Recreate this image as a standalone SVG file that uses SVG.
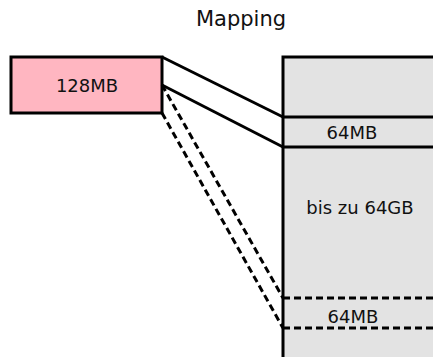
<svg xmlns="http://www.w3.org/2000/svg" width="433" height="357" viewBox="0 0 433 357">
<style>
text{font-family:"DejaVu Sans",sans-serif;fill:#111;text-anchor:middle}
.box{stroke:#000;stroke-width:3}
.solid{stroke:#000;stroke-width:3;fill:none}
.dash{stroke:#000;stroke-width:3;fill:none;stroke-dasharray:7 4}
</style>
<rect width="433" height="357" fill="#fff"/>
<text x="241" y="26" font-size="21">Mapping</text>
<g id="memory">
<rect class="box" x="283" y="57" width="160" height="310" fill="#e3e3e3"/>
<line class="solid" x1="283" y1="117" x2="433" y2="117"/>
<line class="solid" x1="283" y1="147" x2="433" y2="147"/>
<line class="dash" x1="283" y1="298" x2="433" y2="298"/>
<line class="dash" x1="283" y1="328" x2="433" y2="328"/>
<text x="352" y="139" font-size="18">64MB</text>
<text x="360" y="214" font-size="18">bis zu 64GB</text>
<text x="353" y="323" font-size="18">64MB</text>
</g>
<g id="block">
<rect class="box" x="11" y="57" width="151" height="56" fill="#ffb6c1"/>
<text x="87" y="92" font-size="18">128MB</text>
</g>
<g id="connectors">
<line class="solid" x1="162" y1="57" x2="283" y2="117"/>
<line class="solid" x1="162" y1="85" x2="283" y2="147"/>
<line class="dash" x1="162" y1="85" x2="283" y2="298" stroke-dasharray="6 5"/>
<line class="dash" x1="162" y1="113" x2="283" y2="328" stroke-dasharray="6 5"/>
</g>
</svg>
